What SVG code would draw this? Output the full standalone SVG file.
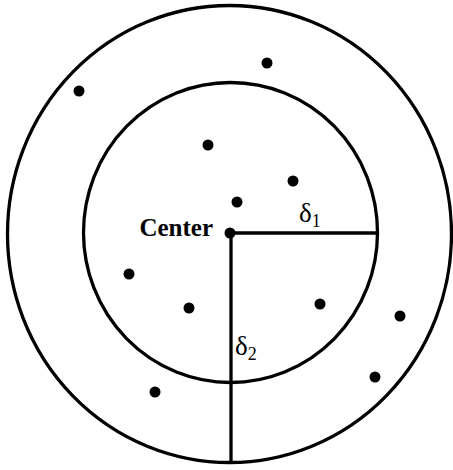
<svg xmlns="http://www.w3.org/2000/svg" width="453" height="470" viewBox="0 0 453 470">
<style>
.ring{fill:none;stroke:#000;stroke-width:3.3}
.pt{fill:#000}
.ln{stroke:#000;stroke-width:3.3;fill:none}
.lbl{font-family:"Liberation Serif","Times New Roman",serif;fill:#000}
</style>
<rect width="453" height="470" fill="#fff"/>
<g id="outer"><ellipse class="ring" cx="229.5" cy="234" rx="222" ry="228.5"/></g>
<g id="inner"><ellipse class="ring" cx="230.5" cy="232.5" rx="147" ry="150"/></g>
<g id="connectors">
<line class="ln" x1="230" y1="233" x2="378" y2="233"/>
<line class="ln" x1="231" y1="233" x2="231" y2="463"/>
</g>
<g id="center">
<circle class="pt" cx="230" cy="233" r="5.5"/>
<text class="lbl" x="213" y="236" text-anchor="end" font-size="25" font-weight="bold">Center</text>
</g>
<g id="delta1"><text class="lbl" x="299" y="222" font-size="27">δ<tspan font-size="18" dy="5">1</tspan></text></g>
<g id="delta2"><text class="lbl" x="235" y="355" font-size="27">δ<tspan font-size="18" dy="5">2</tspan></text></g>
<g id="points">
<circle class="pt" cx="79" cy="91" r="5.5"/>
<circle class="pt" cx="267" cy="63" r="5.5"/>
<circle class="pt" cx="208" cy="145" r="5.5"/>
<circle class="pt" cx="293" cy="181" r="5.5"/>
<circle class="pt" cx="237" cy="202" r="5.5"/>
<circle class="pt" cx="129" cy="274" r="5.5"/>
<circle class="pt" cx="189" cy="308" r="5.5"/>
<circle class="pt" cx="320" cy="304" r="5.5"/>
<circle class="pt" cx="400" cy="316" r="5.5"/>
<circle class="pt" cx="375" cy="377" r="5.5"/>
<circle class="pt" cx="155" cy="392" r="5.5"/>
</g>
</svg>
